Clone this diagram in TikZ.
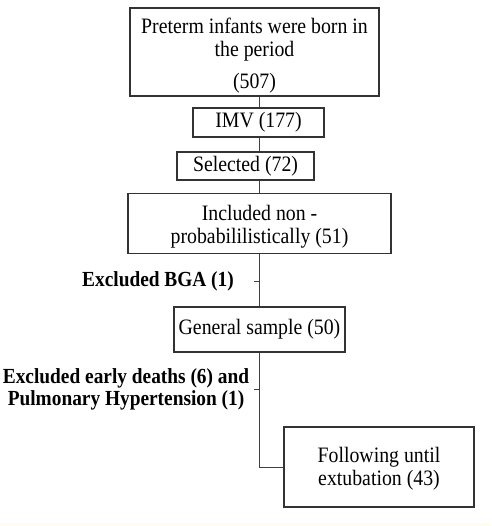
\documentclass[tikz,border=0pt]{standalone}
\usepackage{fontspec}
\setmainfont[FakeStretch=0.9]{Liberation Serif}
\begin{document}
\begin{tikzpicture}[x=1pt,y=-1pt,
  box/.style={draw=black!80,line width=1.1pt,inner sep=0pt,align=center,font=\fontsize{22}{23}\selectfont},
  lbl/.style={inner sep=0pt,align=center,font=\fontsize{21.5}{22}\selectfont\bfseries},
  conn/.style={draw=black!75,line width=0.9pt}]
\fill[white] (0,0) rectangle (491,526);
\fill[yellow!8] (0,523) rectangle (491,526);
\useasboundingbox (0,0) rectangle (491,526);
\node[box,minimum width=249pt,minimum height=88pt] (b1) at (254.5,52) {\rule{0pt}{22pt}Preterm infants were born in\\the period\\[9pt](507)};
\node[box,minimum width=131pt,minimum height=29pt] (imv) at (258.5,122.5) {IMV (177)};
\node[box,minimum width=137pt,minimum height=28pt] (sel) at (245.5,166) {Selected (72)};
\node[box,minimum width=263pt,minimum height=60pt] (inc) at (259.5,223.5) {\rule{0pt}{21pt}Included non -\\probabililistically (51)};
\node[box,minimum width=171pt,minimum height=45pt] (gen) at (259.5,329.5) {General sample (50)};
\node[box,minimum width=190pt,minimum height=80pt] (fol) at (379,467) {\rule{0pt}{19pt}Following until\\extubation (43)};
\coordinate (t1) at (254,281);
\coordinate (t2) at (254,389);
\coordinate (corner) at (259,467);
\node[lbl,anchor=east] (ex1) at (234,281) {Excluded BGA (1)};
\node[lbl] (ex2) at (126,389) {Excluded early deaths (6) and\\Pulmonary Hypertension (1)};
\draw[conn] (b1.south -| corner) -- (imv.north -| corner);
\draw[conn] (imv.south -| corner) -- (sel.north -| corner);
\draw[conn] (sel.south -| corner) -- (inc.north -| corner);
\draw[conn] (inc.south -| corner) -- (gen.north -| corner);
\draw[conn] (t1) -- (t1 -| corner);
\draw[conn] (t2) -- (t2 -| corner);
\draw[conn] (gen.south -| corner) -- (corner) -- (fol.west |- corner);
\end{tikzpicture}
\end{document}
